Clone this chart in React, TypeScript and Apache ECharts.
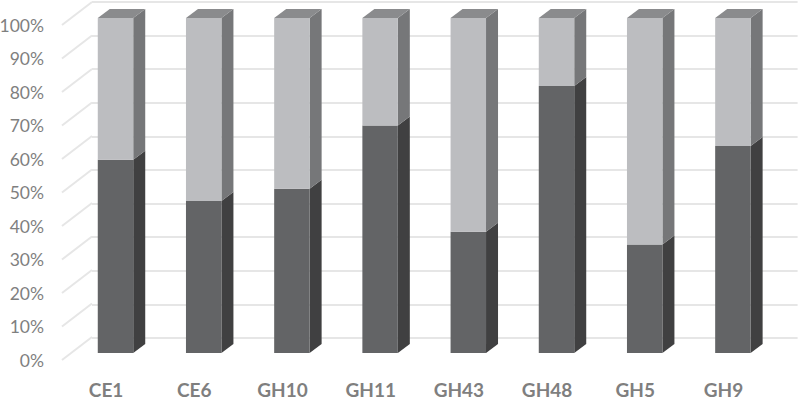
import React, { useEffect, useRef } from "react";
import * as echarts from "echarts";

const categories = ["CE1", "CE6", "GH10", "GH11", "GH43", "GH48", "GH5", "GH9"];
const lowerShare = [57.7, 45.4, 49.0, 67.9, 36.2, 79.7, 32.4, 61.8];
const upperShare = [42.3, 54.6, 51.0, 32.1, 63.8, 20.3, 67.6, 38.2];
const percentTicks = [0, 10, 20, 30, 40, 50, 60, 70, 80, 90, 100];

const BAR_RATIO = 0.402;
const DEPTH_X = 12;
const DEPTH_Y = -9;
const GRID_W = 705.6;
const CANVAS_H = 401;

const barSeries = (
  name: string,
  rows: number[][],
  front: string,
  side: string,
  top: string | null
) => ({
  type: "custom",
  name,
  xAxisIndex: 0,
  yAxisIndex: 0,
  clip: false,
  z: 5,
  data: rows,
  encode: { x: 0, y: [1, 2] },
  renderItem: (_p: any, api: any) => {
    const idx = api.value(0);
    const a = api.coord([idx, api.value(1)]);
    const b = api.coord([idx, api.value(2)]);
    const w = api.size([1, 0])[0] * BAR_RATIO;
    const l = a[0] - w / 2;
    const r = a[0] + w / 2;
    const children: any[] = [
      {
        type: "polygon",
        shape: { points: [[r, a[1]], [r + DEPTH_X, a[1] + DEPTH_Y], [r + DEPTH_X, b[1] + DEPTH_Y], [r, b[1]]] },
        style: { fill: side },
      },
      { type: "rect", shape: { x: l, y: b[1], width: w, height: a[1] - b[1] }, style: { fill: front } },
    ];
    if (top) {
      children.push({
        type: "polygon",
        shape: { points: [[l, b[1]], [l + DEPTH_X, b[1] + DEPTH_Y], [r + DEPTH_X, b[1] + DEPTH_Y], [r, b[1]]] },
        style: { fill: top },
      });
    }
    return { type: "group", children };
  },
});

export default function App() {
  const ref = useRef<HTMLDivElement>(null);
  useEffect(() => {
    const chart = echarts.init(ref.current!, undefined, { renderer: "svg" });
    const gridOf = (left: number, top: number, floorY: number) => ({
      left,
      top,
      width: GRID_W,
      height: floorY - top,
      containLabel: false,
      outerBoundsMode: "none",
    });
    const hiddenX = (gridIndex: number) => ({
      type: "category" as const,
      gridIndex,
      data: categories,
      axisLine: { show: false },
      axisTick: { show: false },
      axisLabel: { show: false },
      splitLine: { show: false },
    });
    const option: any = {
      animation: false,
      backgroundColor: "#ffffff",
      grid: [gridOf(71.4, 18, 353), gridOf(92, 2, 338), gridOf(62, 25, 360)],
      xAxis: [
        hiddenX(0),
        hiddenX(1),
        {
          type: "category",
          gridIndex: 2,
          data: categories,
          axisLine: { show: false },
          axisTick: { show: false },
          splitLine: { show: false },
          axisLabel: {
            margin: 21.5,
            lineHeight: 16,
            color: "#7f7f7f",
            fontFamily: "Lato",
            fontWeight: "bold",
            fontSize: 19,
          },
        },
      ],
      yAxis: [
        {
          type: "value",
          gridIndex: 0,
          min: 0,
          max: 100,
          interval: 10,
          axisLine: { show: false },
          axisTick: { show: false },
          axisLabel: { show: false },
          splitLine: { show: false },
        },
        {
          type: "value",
          gridIndex: 1,
          min: 0,
          max: 100,
          interval: 10,
          axisLine: { show: false },
          axisTick: { show: false },
          axisLabel: { show: false },
          splitLine: { show: true, lineStyle: { color: "#e6e6e6", width: 2 } },
        },
        {
          type: "value",
          gridIndex: 2,
          min: 0,
          max: 100,
          interval: 10,
          axisLine: { show: false },
          axisTick: { show: false },
          splitLine: { show: false },
          axisLabel: {
            margin: 18,
            color: "#7f7f7f",
            fontFamily: "Lato",
            fontSize: 17.5,
            formatter: "{value}%",
          },
        },
      ],
      series: [
        {
          type: "custom",
          name: "wall",
          xAxisIndex: 2,
          yAxisIndex: 2,
          clip: false,
          z: 1,
          silent: true,
          data: percentTicks.map((t) => [0, t]),
          renderItem: (p: any, api: any) => {
            const y = api.coord([0, api.value(1)])[1];
            const x = p.coordSys.x;
            return {
              type: "line",
              shape: { x1: x, y1: y, x2: x + 30, y2: y - 23 },
              style: { stroke: "#e6e6e6", lineWidth: 2 },
            };
          },
        },
        barSeries("lower", categories.map((_, i) => [i, 0, lowerShare[i]]), "#636466", "#404041", null),
        barSeries(
          "upper",
          categories.map((_, i) => [i, lowerShare[i], lowerShare[i] + upperShare[i]]),
          "#bcbdc0",
          "#767779",
          "#8a8b8d"
        ),
      ],
    };
    chart.setOption(option);
    return () => chart.dispose();
  }, []);
  return (
    <div
      ref={ref}
      style={{ position: "fixed", left: 0, top: 0, width: 799, height: CANVAS_H }}
    />
  );
}
